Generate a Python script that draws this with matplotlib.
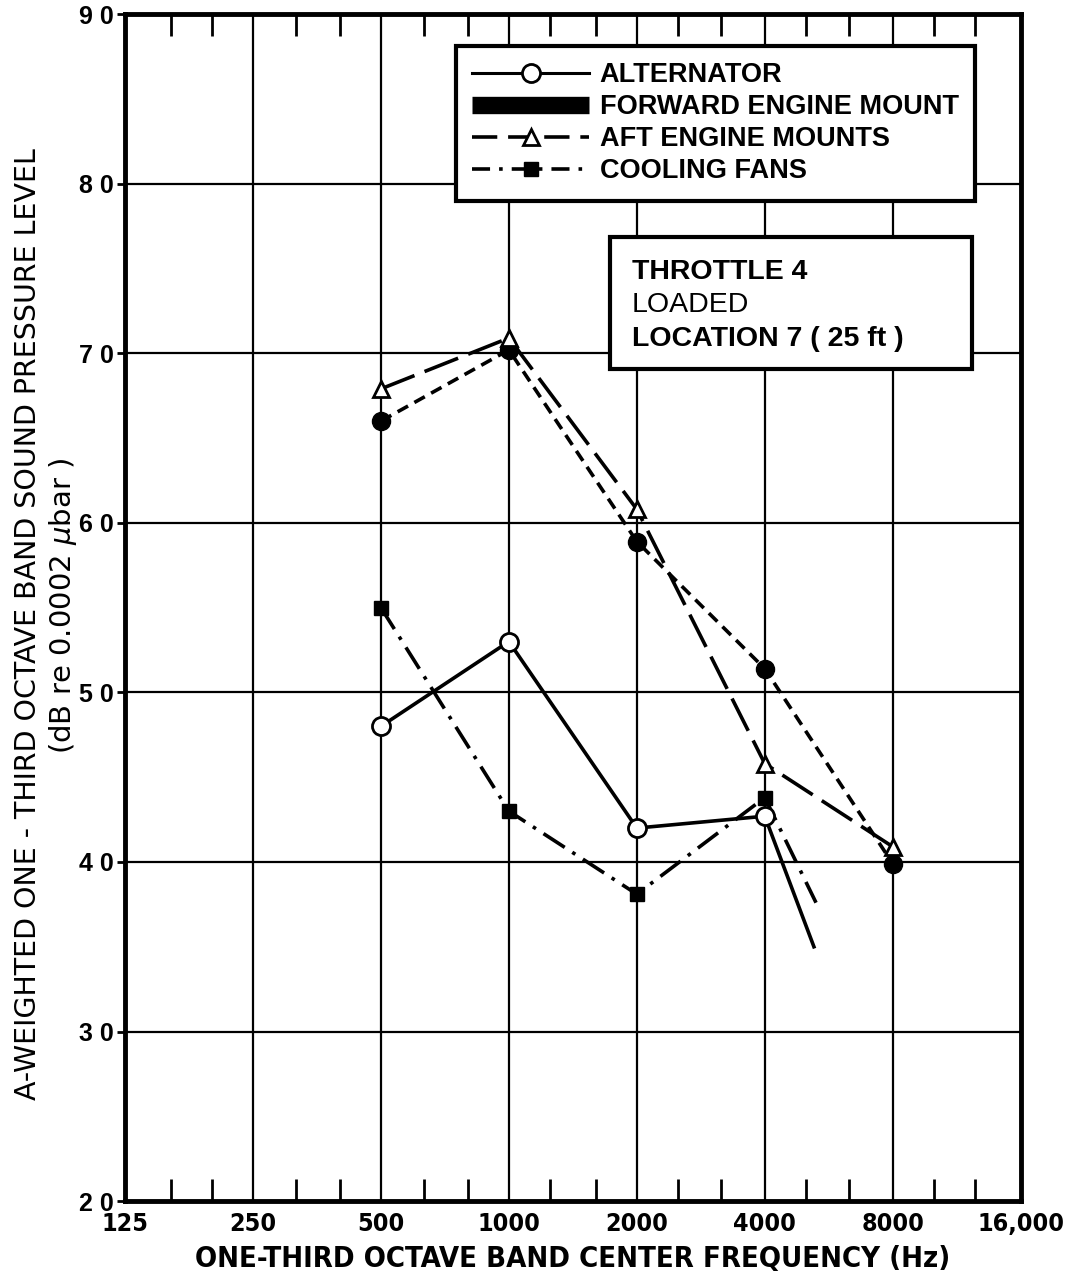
import matplotlib.pyplot as plt
from matplotlib.lines import Line2D
from matplotlib.patches import Rectangle

# octave-band values
freq_oct = [500, 1000, 2000, 4000, 8000]
freq_part = [500, 1000, 2000, 4000]

alternator = [48.0, 53.0, 42.0, 42.7]
alt_tail_f = [4000, 5220]
alt_tail = [42.7, 35.0]

fwd_mount = [66.0, 70.2, 58.9, 51.4, 39.9]
aft_mounts = [67.9, 70.9, 60.8, 45.8, 40.9]

cooling = [55.0, 43.0, 38.1, 43.8]
cool_tail_f = [4000, 5280]
cool_tail = [43.8, 37.6]

xticks = [125, 250, 500, 1000, 2000, 4000, 8000, 16000]
xticklabels = ['125', '250', '500', '1000', '2000', '4000', '8000', '16,000']
third = [160, 200, 315, 400, 630, 800, 1250, 1600, 2500, 3150, 5000, 6300,
         10000, 12500]
yticks = [20, 30, 40, 50, 60, 70, 80, 90]

plt.rcParams['font.family'] = ['Liberation Sans', 'DejaVu Sans']
cond = dict(family=['DejaVu Sans'], fontstretch='condensed')

fig = plt.figure(figsize=(10.87, 12.86), dpi=100)
ax = fig.add_axes([0.115, 0.066, 0.824, 0.923])
ax.set_xscale('log')
ax.set_xlim(125, 16000)
ax.set_ylim(20, 90)

# grid
for f in xticks[1:-1]:
    ax.axvline(f, color='black', lw=1.6, zorder=1)
for y in yticks[1:-1]:
    ax.axhline(y, color='black', lw=1.6, zorder=1)

k = 'black'
ax.plot(freq_part, alternator, color=k, lw=2.6, marker='o', ms=13,
        mfc='white', mec=k, mew=2, zorder=5)
ax.plot(alt_tail_f, alt_tail, color=k, lw=2.6, zorder=4)

ax.plot(freq_oct, fwd_mount, color=k, lw=2.6, dashes=(3.3, 2), marker='o',
        ms=13, mfc=k, mec=k, zorder=5)

ax.plot(freq_oct, aft_mounts, color=k, lw=2.6, dashes=(10, 3), marker='^',
        ms=12, mfc='white', mec=k, mew=2, zorder=6)

ax.plot(freq_part, cooling, color=k, lw=2.6, dashes=(7, 2.5, 1, 2.5),
        marker='s', ms=10, mfc=k, mec=k, zorder=5)
ax.plot(cool_tail_f, cool_tail, color=k, lw=2.6, dashes=(7, 2.5, 1, 2.5),
        zorder=4)

# ticks
ax.set_xticks(xticks)
ax.set_xticklabels(xticklabels, fontsize=18, fontweight='bold', **cond)
ax.set_xticks(third, minor=True)
ax.xaxis.set_minor_formatter(plt.NullFormatter())
ax.tick_params(axis='x', which='both', direction='in', top=True, width=2,
               pad=8)
ax.tick_params(axis='x', which='major', length=0)
ax.tick_params(axis='x', which='minor', length=16)
ax.set_yticks(yticks)
ax.set_yticklabels([' '.join(str(v)) for v in yticks], fontsize=18,
                   fontweight='heavy')
ax.tick_params(axis='y', which='major', direction='out', length=6, width=2,
               pad=2)
for s in ax.spines.values():
    s.set_linewidth(3.5)

ax.set_xlabel('ONE-THIRD OCTAVE BAND CENTER FREQUENCY (Hz)', fontsize=21,
              fontweight='bold', labelpad=6, **cond)
fig.text(0.026, 0.515,
         'A-WEIGHTED ONE - THIRD OCTAVE BAND SOUND PRESSURE LEVEL',
         rotation=90, ha='center', va='center', fontsize=20.5,
         family=['DejaVu Sans'])
fig.text(0.058, 0.529, '(dB re 0.0002 $\\mu$bar )', rotation=90,
         ha='center', va='center', fontsize=21, family=['DejaVu Sans'])

# legend
handles = [
    Line2D([0], [0], color=k, lw=2.2, marker='o', ms=13, mfc='white', mew=2,
           markevery=[0, 1]),
    Line2D([0], [0], color=k, lw=12.5, solid_capstyle='butt'),
    Line2D([0], [0], color=k, lw=2.6, dashes=(7, 3), marker='^', ms=11,
           mfc='white', mew=2, markevery=[0, 1]),
    Line2D([0], [0], color=k, lw=2.6, dashes=(5, 2.5, 1, 2.5), marker='s',
           ms=10, markevery=[0, 1]),
]
labels = ['ALTERNATOR', 'FORWARD ENGINE MOUNT', 'AFT ENGINE MOUNTS',
          'COOLING FANS']
leg = ax.legend(handles, labels, loc='upper right',
                bbox_to_anchor=(0.949, 0.973),
                prop={'weight': 'bold', 'size': 19.5}, handlelength=4.3,
                handletextpad=0.4, labelspacing=0.22, borderpad=0.6,
                borderaxespad=0, fancybox=False, framealpha=1, edgecolor=k)
leg.get_frame().set_linewidth(3)
leg.set_zorder(10)

# condition box
ax.add_patch(Rectangle((0.541, 0.701), 0.405, 0.111, transform=ax.transAxes,
                       fc='white', ec=k, lw=3, zorder=9))
ax.text(0.566, 0.783, 'THROTTLE 4', transform=ax.transAxes, ha='left',
        va='center', fontsize=20.5, fontweight='bold', zorder=10)
ax.text(0.566, 0.755, 'LOADED', transform=ax.transAxes, ha='left',
        va='center', fontsize=20.5, zorder=10)
ax.text(0.566, 0.726, 'LOCATION 7 ( 25 ft )', transform=ax.transAxes,
        ha='left', va='center', fontsize=20.5, fontweight='bold', zorder=10)

fig.savefig('out.png', dpi=100)
